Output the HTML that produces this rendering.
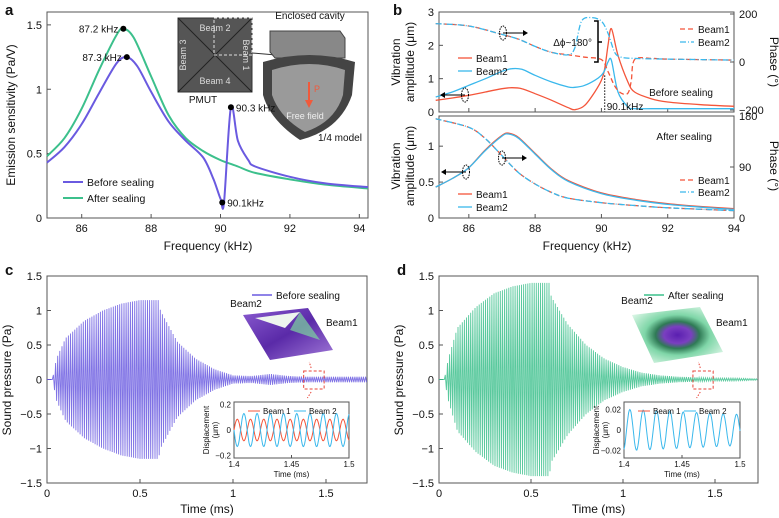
<!DOCTYPE html>
<html><head><meta charset="utf-8"><style>
html,body{margin:0;padding:0;background:#fff;}
svg{display:block;font-family:"Liberation Sans",sans-serif;}
</style></head><body>
<svg id="fig" width="779" height="518" viewBox="0 0 779 518" xmlns="http://www.w3.org/2000/svg">
<defs>
<linearGradient id="pyr" x1="0" y1="0" x2="1" y2="1"><stop offset="0" stop-color="#8a5bd0"/><stop offset="0.5" stop-color="#5a2aa8"/><stop offset="1" stop-color="#a27ad8"/></linearGradient>
<radialGradient id="grn" cx="0.5" cy="0.5" r="0.6"><stop offset="0" stop-color="#5a1fb0"/><stop offset="0.25" stop-color="#7a3fc0"/><stop offset="0.4" stop-color="#2f7a55"/><stop offset="0.6" stop-color="#7fd6a8"/><stop offset="1" stop-color="#d8f5e4"/></radialGradient>
</defs>
<g id="root"></g>
</svg>
<script>
// ---------- data ----------
const aFreqAfter = [85,85.5,86,86.5,87,87.2,87.5,88,88.5,89,89.5,90,90.5,91,92,93,94.25];
const aValAfter  = [0.48,0.62,0.85,1.15,1.42,1.47,1.40,1.10,0.80,0.62,0.52,0.45,0.40,0.35,0.30,0.26,0.23];
const aFreqBefore = [85,85.5,86,86.5,87,87.3,87.6,88,88.5,89,89.5,89.8,90,90.1,90.3,90.5,90.8,91,92,93,94.25];
const aValBefore  = [0.43,0.55,0.73,0.97,1.20,1.25,1.18,0.98,0.75,0.60,0.47,0.30,0.15,0.12,0.86,0.60,0.45,0.40,0.32,0.27,0.24];
const aTicksX = [86,88,90,92,94];
const aTicksY = [0,0.5,1,1.5];
const aTickLabelsY = ['0','0.5','1','1.5'];

const bFreqAmp = [85,85.5,86,86.5,87,87.3,87.6,88,88.5,89,89.2,89.5,89.8,90,90.1,90.2,90.3,90.5,90.8,91,91.5,92,93,94];
const bAmpBeam1 = [0.35,0.42,0.50,0.60,0.70,0.73,0.70,0.55,0.35,0.13,0.07,0.20,0.60,0.95,1.30,2.00,2.50,1.70,0.90,0.60,0.40,0.30,0.22,0.17];
const bAmpBeam2 = [0.45,0.60,0.80,1.00,1.22,1.30,1.28,1.10,0.90,0.75,0.74,0.80,0.95,1.10,1.25,1.50,1.55,0.60,0.15,0.10,0.10,0.10,0.10,0.10];
const bFreqPh1 = [85,86,87,87.5,88,88.5,89,89.5,90,90.2,90.4,90.6,90.8,90.9,91,91.5,92,94];
const bPhBeam1 = [160,150,115,95,65,40,30,20,10,-40,-100,-130,-130,-80,10,15,12,8];
const bFreqPh2 = [85,86,87,87.5,88,88.5,89,89.2,89.4,89.7,90,90.2,90.4,90.6,91,92,94];
const bPhBeam2 = [160,150,115,95,65,40,30,60,170,185,170,120,40,20,15,12,8];
const bFreqLow = [85,85.5,86,86.5,87,87.2,87.5,88,88.5,89,90,91,92,93,94];
const bAmpLow1 = [0.43,0.55,0.70,0.95,1.15,1.18,1.12,0.90,0.68,0.52,0.35,0.26,0.20,0.16,0.13];
const bAmpLow2 = [0.43,0.55,0.70,0.94,1.14,1.17,1.11,0.89,0.67,0.51,0.34,0.25,0.19,0.15,0.12];
const bFreqLowPh = [85,86,86.5,87,87.5,88,88.5,89,90,91,92,94];
const bPhLow = [175,160,140,110,80,60,45,35,27,22,18,13];

const cTimes = [0,0.03,0.05,0.1,0.2,0.3,0.4,0.5,0.6,0.61,0.7,0.8,0.9,1.0,1.1,1.2,1.3,1.4,1.5,1.6,1.72];
const cEnvelope = [0,0,0.30,0.60,0.85,1.00,1.10,1.15,1.15,1.00,0.55,0.30,0.15,0.06,0.05,0.08,0.05,0.04,0.04,0.04,0.04];
const dEnvelope = [0,0,0.30,0.75,1.05,1.25,1.35,1.40,1.40,1.20,0.80,0.50,0.30,0.18,0.10,0.06,0.04,0.03,0.02,0.02,0.01];
const cInsetAmp1 = [0.085];
const cInsetAmp2 = [0.13];
const dInsetAmp = [0.02, 0.015];

// ---------- helpers ----------
const NS='http://www.w3.org/2000/svg';
const root=document.getElementById('root');
function el(tag,attrs,parent){const e=document.createElementNS(NS,tag);for(const k in attrs)e.setAttribute(k,attrs[k]);(parent||root).appendChild(e);return e;}
function txt(x,y,s,size,anchor,extra){const t=el('text',Object.assign({x:x,y:y,'font-size':size||11,'text-anchor':anchor||'middle',fill:'#111'},extra||{}));t.textContent=s;return t;}
function lin(d0,d1,r0,r1){return v=>r0+(v-d0)*(r1-r0)/(d1-d0);}
function smooth(pts){let d='M'+pts[0][0].toFixed(1)+','+pts[0][1].toFixed(1);for(let i=0;i<pts.length-1;i++){const p0=pts[i-1]||pts[i],p1=pts[i],p2=pts[i+1],p3=pts[i+2]||p2;const t=0.16;d+=' C'+(p1[0]+(p2[0]-p0[0])*t).toFixed(1)+','+(p1[1]+(p2[1]-p0[1])*t).toFixed(1)+' '+(p2[0]-(p3[0]-p1[0])*t).toFixed(1)+','+(p2[1]-(p3[1]-p1[1])*t).toFixed(1)+' '+p2[0].toFixed(1)+','+p2[1].toFixed(1);}return d;}
function box(x0,y0,x1,y1,name){const r=el('rect',{x:x0,y:y0,width:x1-x0,height:y1-y0,fill:'none',stroke:'#555','stroke-width':1});return r;}
function interpEnv(ts,vs,t){for(let i=0;i<ts.length-1;i++){if(t>=ts[i]&&t<=ts[i+1]){const f=(t-ts[i])/(ts[i+1]-ts[i]);return vs[i]+f*(vs[i+1]-vs[i]);}}return vs[vs.length-1];}

// ---------- panel a ----------
{
const X=lin(85,94.25,47,368),Y=lin(0,1.6,218,12);
let g=el('g',{});
txt(5,15,'a',15,'start',{'font-weight':'bold'});
box(47,12,368,218,'panel-a-plot-area');
aTicksX.forEach(v=>{el('line',{x1:X(v),x2:X(v),y1:218,y2:214,stroke:'#555'});const t=txt(X(v),232,String(v),11);});
aTicksY.forEach((v,i)=>{el('line',{x1:47,x2:51,y1:Y(v),y2:Y(v),stroke:'#555'});const t=txt(42,Y(v)+4,aTickLabelsY[i],11,'end');});
let xt=txt(208,250,'Frequency (kHz)',12);
let yt=txt(15,115,'Emission sensitivity (Pa/V)',12,'middle',{transform:'rotate(-90 15 115)'});
// inset PMUT
el('rect',{x:178,y:18,width:74,height:74,fill:'#555',stroke:'#333'});
el('line',{x1:178,y1:18,x2:252,y2:92,stroke:'#222'});el('line',{x1:252,y1:18,x2:178,y2:92,stroke:'#222'});
el('rect',{x:214,y:18,width:38,height:37,fill:'none',stroke:'#ddd','stroke-dasharray':'3,2'});
txt(215,31,'Beam 2',9,'middle',{fill:'#ddd'});txt(215,84,'Beam 4',9,'middle',{fill:'#ddd'});
txt(186,55,'Beam 3',9,'middle',{fill:'#ddd',transform:'rotate(-90 186 55)'});txt(243,55,'Beam 1',9,'middle',{fill:'#ddd',transform:'rotate(90 243 55)'});
txt(203,103,'PMUT',10);
el('line',{x1:252,y1:53,x2:288,y2:56,stroke:'#333'});
// cavity
el('polygon',{points:'270,31 340,31 345,38 345,58 275,58 270,52',fill:'#888',stroke:'#444'});
el('path',{d:'M263,62 Q310,48 355,62 L352,95 Q340,130 300,140 Q270,120 263,95 Z',fill:'#444'});
el('path',{d:'M272,70 Q310,58 345,70 L343,95 Q335,122 305,132 Q280,118 272,95 Z',fill:'#9a9a9a'});
el('line',{x1:309,y1:82,x2:309,y2:103,stroke:'#f05a3c','stroke-width':2});el('polygon',{points:'305,100 313,100 309,108',fill:'#f05a3c'});
txt(314,92,'P',9,'start',{fill:'#f05a3c'});
txt(310,19,'Enclosed cavity',10);txt(305,119,'Free field',9,'middle',{fill:'#eee'});txt(318,141,'1/4 model',10,'start');
// curves
let p=el('path',{d:smooth(aFreqAfter.map((f,i)=>[X(f),Y(aValAfter[i])])),fill:'none',stroke:'#3cc08c','stroke-width':2});

p=el('path',{d:smooth(aFreqBefore.map((f,i)=>[X(f),Y(aValBefore[i])])),fill:'none',stroke:'#6a5ae0','stroke-width':2});

[[87.2,1.47,'87.2 kHz',-1],[87.3,1.25,'87.3 kHz',-1],[90.3,0.86,'90.3 kHz',1],[90.05,0.12,'90.1kHz',1]].forEach(m=>{const c=el('circle',{cx:X(m[0]),cy:Y(m[1]),r:3,fill:'#000'});txt(X(m[0])+m[3]*5,Y(m[1])+4,m[2],10,m[3]<0?'end':'start');});
el('line',{x1:63,x2:83,y1:182,y2:182,stroke:'#6a5ae0','stroke-width':2});txt(87,186,'Before sealing',10.5,'start');
el('line',{x1:63,x2:83,y1:198,y2:198,stroke:'#3cc08c','stroke-width':2});txt(87,202,'After sealing',10.5,'start');
}

// ---------- panel b ----------
{
const X=lin(85.1,94,439,734);
const Yt=lin(0,3,112,12),Pt=lin(-200,200,110,14);
const Yb=lin(0,1.42,218,116),Pb=lin(0,180,218,116);
txt(393,15,'b',15,'start',{'font-weight':'bold'});
box(439,12,734,112,'panel-b-top-plot');box(439,116,734,218,'panel-b-bottom-plot');
[86,88,90,92,94].forEach(v=>{el('line',{x1:X(v),x2:X(v),y1:218,y2:214,stroke:'#555'});el('line',{x1:X(v),x2:X(v),y1:112,y2:108,stroke:'#555'});txt(X(v),232,String(v),11);});
[0,1,2,3].forEach(v=>{el('line',{x1:439,x2:443,y1:Yt(v),y2:Yt(v),stroke:'#555'});txt(434,Yt(v)+4,String(v),11,'end');});
[-200,0,200].forEach(v=>{el('line',{x1:734,x2:730,y1:Pt(v),y2:Pt(v),stroke:'#555'});txt(739,Pt(v)+4,v<0?'−200':String(v),11,'start');});
[[0,'0'],[0.5,'0.5'],[1,'1']].forEach(v=>{el('line',{x1:439,x2:443,y1:Yb(v[0]),y2:Yb(v[0]),stroke:'#555'});txt(434,Yb(v[0])+4,v[1],11,'end');});
[0,90,180].forEach(v=>{el('line',{x1:734,x2:730,y1:Pb(v),y2:Pb(v),stroke:'#555'});txt(739,Pb(v)+4,String(v),11,'start');});
txt(587,250,'Frequency (kHz)',12);
txt(400,62,'Vibration',12,'middle',{transform:'rotate(-90 400 62)'});txt(414,62,'amplitude (μm)',12,'middle',{transform:'rotate(-90 414 62)'});
txt(400,166,'Vibration',12,'middle',{transform:'rotate(-90 400 166)'});txt(414,166,'amplitude (μm)',12,'middle',{transform:'rotate(-90 414 166)'});
txt(770,62,'Phase (°)',12,'middle',{transform:'rotate(90 770 62)'});txt(770,166,'Phase (°)',12,'middle',{transform:'rotate(90 770 166)'});
const red='#f4553a',blue='#3ab8ec';
function line(fs,vs,X,Y,col,dash,name){const p=el('path',{d:smooth(fs.map((f,i)=>[X(f),Y(vs[i])])),fill:'none',stroke:col,'stroke-width':1.3,'stroke-dasharray':dash||'none'});}
line(bFreqAmp,bAmpBeam1,X,Yt,red,null,'beam1-amplitude-before');
line(bFreqAmp,bAmpBeam2,X,Yt,blue,null,'beam2-amplitude-before');
line(bFreqPh1,bPhBeam1,X,Pt,red,'5,3','beam1-phase-before');
line(bFreqPh2,bPhBeam2,X,Pt,blue,'6,2,1,2','beam2-phase-before');
line(bFreqLow,bAmpLow1,X,Yb,red,null,'beam1-amplitude-after');
line(bFreqLow,bAmpLow2,X,Yb,blue,null,'beam2-amplitude-after');
line(bFreqLowPh,bPhLow,X,Pb,red,'5,3','beam1-phase-after');
line(bFreqLowPh,bPhLow,X,Pb,blue,'6,2,1,2','beam2-phase-after');
el('line',{x1:X(90.1),x2:X(90.1),y1:Yt(1.1),y2:112,stroke:'#000','stroke-dasharray':'1.5,1.5'});
txt(X(90.1)+2,110,'90.1kHz',10,'start');
el('path',{d:'M594,21 L598,21 L598,62 L594,62 M598,42 L602,42',fill:'none',stroke:'#000','stroke-width':1.5});
txt(592,46,'Δϕ~180°',10,'end');
txt(713,96,'Before sealing',10,'end');txt(712,140,'After sealing',10,'end');
// ellipse markers
[[503,33,1],[465,95,-1],[502,158,1],[466,172,-1]].forEach(m=>{el('ellipse',{cx:m[0],cy:m[1],rx:3.5,ry:7,fill:'none',stroke:'#000','stroke-dasharray':'1.5,1'});const x2=m[0]+m[2]*20;el('line',{x1:m[0],y1:m[1],x2:x2,y2:m[1],stroke:'#000'});el('polygon',{points:x2+','+(m[1]-3)+' '+x2+','+(m[1]+3)+' '+(x2+m[2]*5)+','+m[1],fill:'#000'});});
function leg(x,y,col,dash,label){el('line',{x1:x,x2:x+14,y1:y,y2:y,stroke:col,'stroke-width':1.3,'stroke-dasharray':dash||'none'});txt(x+18,y+4,label,10,'start');}
leg(458,58,red,null,'Beam1');leg(458,71,blue,null,'Beam2');
leg(680,29,red,'5,3','Beam1');leg(680,42,blue,'6,2,1,2','Beam2');
leg(458,194,red,null,'Beam1');leg(458,207,blue,null,'Beam2');
leg(680,180,red,'5,3','Beam1');leg(680,192,blue,'6,2,1,2','Beam2');
}

// ---------- panels c, d ----------
function wavePanel(x0,x1,pxPerMs,env,col,letter,name,legendLabel){
const X=v=>x0+v*pxPerMs,Y=lin(-1.5,1.5,483,276);
txt(x0-42,275,letter,15,'start',{'font-weight':'bold'});
box(x0,276,x1,483,name+'-plot-area');
[[0,'0'],[0.5,'0.5'],[1,'1'],[1.5,'1.5']].forEach(v=>{el('line',{x1:X(v[0]),x2:X(v[0]),y1:483,y2:479,stroke:'#555'});txt(X(v[0]),497,v[1],11);});
[[-1.5,'−1.5'],[-1,'−1'],[-0.5,'−0.5'],[0,'0'],[0.5,'0.5'],[1,'1'],[1.5,'1.5']].forEach(v=>{el('line',{x1:x0,x2:x0+4,y1:Y(v[0]),y2:Y(v[0]),stroke:'#555'});txt(x0-5,Y(v[0])+4,v[1],11,'end');});
txt((x0+x1)/2,513,'Time (ms)',12);
txt(x0-36,380,'Sound pressure (Pa)',12,'middle',{transform:'rotate(-90 '+(x0-36)+' 380)'});
const tMax=(x1-x0)/pxPerMs;let pts=[];const f=87;
for(let k=0;k<=tMax*f*2;k++){const t=k/(2*f);const a=interpEnv(cTimes,env,t);pts.push(X(t).toFixed(1)+','+Y(k%2?-a:a).toFixed(1));}
const w=el('polyline',{points:pts.join(' '),fill:'none',stroke:col,'stroke-width':0.9,'stroke-opacity':0.85});

el('line',{x1:x0+205,x2:x0+225,y1:295,y2:295,stroke:col,'stroke-width':1.5});txt(x0+229,299,legendLabel,10,'start');
// red dashed zoom box
el('rect',{x:X(1.38),y:371,width:X(1.49)-X(1.38),height:18,fill:'none',stroke:'#e8453a','stroke-dasharray':'3,2'});
el('line',{x1:X(1.42),y1:368,x2:X(1.41),y2:362,stroke:'#e8453a','stroke-dasharray':'1.5,1.5'});
el('line',{x1:X(1.42),y1:392,x2:X(1.40),y2:398,stroke:'#e8453a','stroke-dasharray':'1.5,1.5'});
return X;}

wavePanel(47,367,186,cEnvelope,'#6a5ae0','c','panel-c','Before sealing');
wavePanel(439,758,184,dEnvelope,'#3cc08c','d','panel-d','After sealing');

// 3D insets
el('polygon',{points:'243,315 308,308 333,350 270,360',fill:'url(#pyr)'});
el('polygon',{points:'255,318 300,312 285,328',fill:'#eef5ee'});
el('polygon',{points:'300,312 320,340 290,330',fill:'#7dd4a0','fill-opacity':0.7});
txt(246,307,'Beam2',10,'middle');txt(326,326,'Beam1',10,'start');
el('polygon',{points:'632,315 700,307 723,352 654,363',fill:'url(#grn)'});
txt(637,304,'Beam2',10,'middle');txt(716,326,'Beam1',10,'start');

// small insets
function smallInset(x0,x1,y0,y1,ymax,ticks,amps,cols,phases,name){
box(x0,y0,x1,y1,name);const X=lin(1.4,1.5,x0,x1),Y=lin(-ymax,ymax,y1,y0);
[[1.4,'1.4'],[1.45,'1.45'],[1.5,'1.5']].forEach(v=>{el('line',{x1:X(v[0]),x2:X(v[0]),y1:y1,y2:y1-3,stroke:'#555'});txt(X(v[0]),y1+9,v[1],8);});
ticks.forEach(v=>{txt(x0-3,Y(v[0])+3,v[1],8,'end');});
txt((x0+x1)/2,y1+19,'Time (ms)',8);
txt(x0-25,(y0+y1)/2,'Displacement',8,'middle',{transform:'rotate(-90 '+(x0-25)+' '+((y0+y1)/2)+')'});
txt(x0-16,(y0+y1)/2,'(μm)',8,'middle',{transform:'rotate(-90 '+(x0-16)+' '+((y0+y1)/2)+')'});
amps.forEach((a,j)=>{let pts=[];for(let i=0;i<=200;i++){const t=1.4+i*0.0005;const amp=a[0]+(a[1]-a[0])*(i/200);pts.push(X(t).toFixed(1)+','+Y(amp*Math.sin(2*Math.PI*87*(t-1.4)+phases[j])).toFixed(1));}
const p=el('polyline',{points:pts.join(' '),fill:'none',stroke:cols[j],'stroke-width':1});});
el('line',{x1:x0+14,x2:x0+26,y1:y0+9,y2:y0+9,stroke:'#f4553a'});txt(x0+29,y0+12,'Beam 1',8,'start');
el('line',{x1:x0+60,x2:x0+72,y1:y0+9,y2:y0+9,stroke:'#3ab8ec'});txt(x0+75,y0+12,'Beam 2',8,'start');
}
smallInset(234,349,402,458,0.22,[[0.2,'0.2'],[0,'0'],[-0.2,'−0.2']],[[cInsetAmp1[0],cInsetAmp1[0]],[cInsetAmp2[0],cInsetAmp2[0]]],['#f4553a','#3ab8ec'],[0,Math.PI],'panel-c-inset');
smallInset(624,740,402,458,0.027,[[0.02,'0.02'],[0,'0'],[-0.02,'−0.02']],[[dInsetAmp[0],dInsetAmp[1]]],['#3ab8ec'],[-1.2],'panel-d-inset');
</script>
</body></html>
